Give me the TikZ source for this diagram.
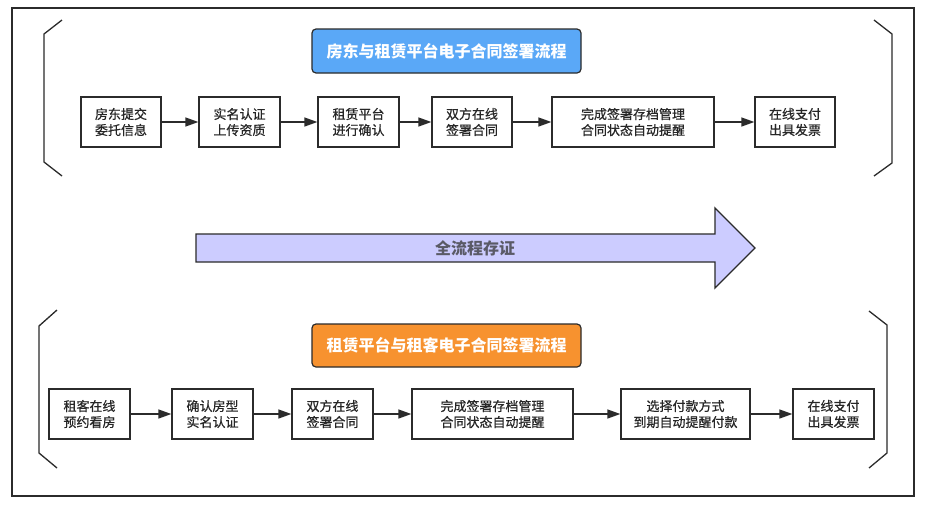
\documentclass[tikz,border=0pt]{standalone}
\usepackage{fontspec}
\setmainfont{Noto Sans CJK SC}
\newfontfamily\boxfont[FakeBold=0.6]{Noto Sans CJK SC}
\usetikzlibrary{arrows.meta}
\definecolor{lineC}{HTML}{2B2B2B}
\definecolor{blueT}{HTML}{5AA8F7}
\definecolor{orangeT}{HTML}{F7922F}
\definecolor{lav}{HTML}{CCCCFF}
\definecolor{midtxt}{HTML}{5A5A66}
\begin{document}
\begin{tikzpicture}[x=1pt,y=-1pt,
  stepbox/.style={draw=lineC,line width=1.3pt,fill=white,align=center,inner sep=0pt,
     font=\boxfont\fontsize{13}{16}\selectfont,text=black!85},
  titlebox/.style={draw=lineC,line width=1.2pt,rounded corners=4pt,inner sep=0pt,
     font=\fontsize{16}{18}\selectfont\bfseries,text=white},
  flow/.style={draw=lineC,line width=1.3pt,-{Triangle[length=13pt,width=9pt]}},
  brk/.style={draw=lineC,line width=1.3pt},
]
\useasboundingbox (0,0) rectangle (928,509);
\fill[white] (0,0) rectangle (928,509);
\draw[lineC,line width=1.4pt] (12,8) rectangle (914,496);

% top brackets
\draw[brk] (62,20) -- (44,34) -- (44,162) -- (62,176);
\draw[brk] (874,20) -- (892,34) -- (892,163) -- (874,176);
% bottom brackets
\draw[brk] (57,310) -- (39,326) -- (39,453) -- (57,468);
\draw[brk] (869,311) -- (887,325) -- (887,453) -- (869,468);

% top title
\node[titlebox,fill=blueT,minimum width=269pt,minimum height=44pt] (t1) at (446.5,51) {房东与租赁平台电子合同签署流程};

% top row
\node[stepbox,minimum width=80pt,minimum height=50pt] (a1) at (121,122) {房东提交\\委托信息};
\node[stepbox,minimum width=81pt,minimum height=50pt] (a2) at (239.5,122) {实名认证\\上传资质};
\node[stepbox,minimum width=81pt,minimum height=50pt] (a3) at (358.5,122) {租赁平台\\进行确认};
\node[stepbox,minimum width=80pt,minimum height=50pt] (a4) at (472,122) {双方在线\\签署合同};
\node[stepbox,minimum width=162pt,minimum height=50pt] (a5) at (633,122) {完成签署存档管理\\合同状态自动提醒};
\node[stepbox,minimum width=80pt,minimum height=50pt] (a6) at (795,122) {在线支付\\出具发票};
\draw[flow] (a1) -- (a2);
\draw[flow] (a2) -- (a3);
\draw[flow] (a3) -- (a4);
\draw[flow] (a4) -- (a5);
\draw[flow] (a5) -- (a6);

% middle big arrow
\draw[lineC,line width=1.3pt,fill=lav,line join=miter]
  (196,234) -- (715,234) -- (715,208) -- (755,248) -- (715,288) -- (715,262) -- (196,262) -- cycle;
\node[font=\fontsize{16}{18}\selectfont\bfseries,text=midtxt] (mid) at (475,248) {全流程存证};

% bottom title
\node[titlebox,fill=orangeT,minimum width=269pt,minimum height=43pt] (t2) at (446.5,345.5) {租赁平台与租客电子合同签署流程};

% bottom row
\node[stepbox,minimum width=81pt,minimum height=50pt] (b1) at (89.5,414) {租客在线\\预约看房};
\node[stepbox,minimum width=81pt,minimum height=50pt] (b2) at (212.5,414) {确认房型\\实名认证};
\node[stepbox,minimum width=81pt,minimum height=50pt] (b3) at (332.5,414) {双方在线\\签署合同};
\node[stepbox,minimum width=161pt,minimum height=50pt] (b4) at (492.5,414) {完成签署存档管理\\合同状态自动提醒};
\node[stepbox,minimum width=129pt,minimum height=50pt] (b5) at (685.5,414) {选择付款方式\\到期自动提醒付款};
\node[stepbox,minimum width=81pt,minimum height=50pt] (b6) at (833.5,414) {在线支付\\出具发票};
\draw[flow] (b1) -- (b2);
\draw[flow] (b2) -- (b3);
\draw[flow] (b3) -- (b4);
\draw[flow] (b4) -- (b5);
\draw[flow] (b5) -- (b6);
\end{tikzpicture}
\end{document}
